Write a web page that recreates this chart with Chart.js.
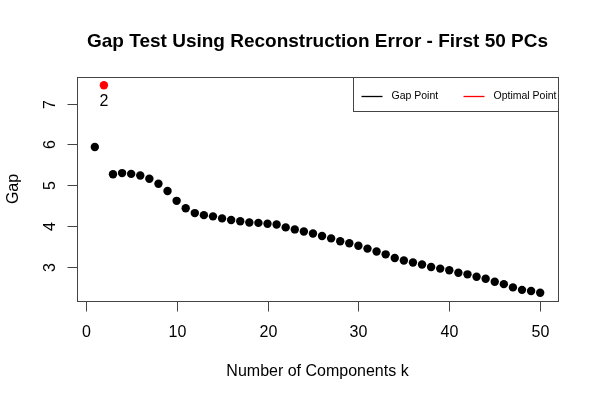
<!DOCTYPE html>
<html>
<head>
<meta charset="utf-8">
<script src="https://cdn.jsdelivr.net/npm/chart.js@4.4.1/dist/chart.umd.min.js"></script>
<style>
  html, body { margin: 0; padding: 0; background: #fff; }
  #wrap { width: 600px; height: 400px; }
</style>
</head>
<body>
<div id="wrap"><canvas id="c" width="600" height="400"></canvas></div>
<script>
// ---- data ----
const components = [1,2,3,4,5,6,7,8,9,10,11,12,13,14,15,16,17,18,19,20,21,22,23,24,25,26,27,28,29,30,31,32,33,34,35,36,37,38,39,40,41,42,43,44,45,46,47,48,49,50];
const gapValues = [5.94,7.45,5.27,5.30,5.28,5.24,5.16,5.04,4.86,4.62,4.44,4.32,4.27,4.24,4.19,4.15,4.12,4.09,4.08,4.06,4.04,3.97,3.92,3.87,3.82,3.76,3.70,3.63,3.58,3.52,3.45,3.38,3.31,3.22,3.16,3.11,3.06,3.00,2.96,2.92,2.86,2.82,2.76,2.71,2.64,2.58,2.50,2.44,2.41,2.37];
const optimalK = 2;
const xTicks = [0,10,20,30,40,50];
const yTicks = [3,4,5,6,7];
const titleText = "Gap Test Using Reconstruction Error - First 50 PCs";
const xTitle = "Number of Components k";
const yTitle = "Gap";
const legendLabels = ["Gap Point", "Optimal Point"];

const gapPts = components.map((k,i)=>({x:k,y:gapValues[i]})).filter(p=>p.x!==optimalK);
const optPts = components.map((k,i)=>({x:k,y:gapValues[i]})).filter(p=>p.x===optimalK);

// R-style 4% range extension
const xr = [Math.min(...components), Math.max(...components)];
const yr = [Math.min(...gapValues), Math.max(...gapValues)];
const xp = (xr[1]-xr[0])*0.04, yp = (yr[1]-yr[0])*0.04;

const FONT = '"Liberation Sans", Arial, Helvetica, sans-serif';

const rAxes = {
  id: 'rAxes',
  afterDraw(chart) {
    const ctx = chart.ctx;
    const a = chart.chartArea;
    const xs = chart.scales.x, ys = chart.scales.y;
    ctx.save();
    // box
    ctx.strokeStyle = '#444';
    ctx.lineWidth = 1;
    ctx.strokeRect(Math.round(a.left)+0.5, Math.round(a.top)+0.5, Math.round(a.right-a.left), Math.round(a.bottom-a.top));
    // x ticks
    ctx.fillStyle = '#000';
    ctx.font = '16px ' + FONT;
    ctx.textAlign = 'center';
    ctx.textBaseline = 'alphabetic';
    const by = Math.round(a.bottom)+0.5;
    xTicks.forEach(t => {
      const px = Math.round(xs.getPixelForValue(t))+0.5;
      ctx.beginPath(); ctx.moveTo(px, by); ctx.lineTo(px, by+10); ctx.stroke();
      ctx.fillText(String(t), px, 337);
    });
    // y ticks
    const lx = Math.round(a.left)+0.5;
    yTicks.forEach(t => {
      const py = Math.round(ys.getPixelForValue(t))+0.5;
      ctx.beginPath(); ctx.moveTo(lx, py); ctx.lineTo(lx-10, py); ctx.stroke();
      ctx.save();
      ctx.translate(55, py);
      ctx.rotate(-Math.PI/2);
      ctx.textAlign = 'center';
      ctx.fillText(String(t), 0, 0);
      ctx.restore();
    });
    // axis titles
    ctx.fillText(xTitle, (a.left+a.right)/2, 376);
    ctx.save();
    ctx.translate(18, (a.top+a.bottom)/2);
    ctx.rotate(-Math.PI/2);
    ctx.fillText(yTitle, 0, 0);
    ctx.restore();
    // main title
    ctx.font = 'bold 19px ' + FONT;
    ctx.fillText(titleText, (a.left+a.right)/2, 47);
    // label at optimal point
    ctx.font = '16px ' + FONT;
    const op = optPts[0];
    ctx.fillText(String(optimalK), xs.getPixelForValue(op.x), ys.getPixelForValue(op.y)+21);
    // legend
    const lr = Math.round(a.right)+0.5, lt = Math.round(a.top)+0.5;
    const lw = 205, lh = 34;
    ctx.fillStyle = '#fff';
    ctx.fillRect(lr-lw, lt, lw, lh);
    ctx.strokeStyle = '#444';
    ctx.strokeRect(lr-lw, lt, lw, lh);
    ctx.font = '10.5px ' + FONT;
    ctx.textAlign = 'left';
    ctx.textBaseline = 'middle';
    const ly = lt + 19;
    const items = [{c:'#000', x: lr-lw+8}, {c:'#ff0000', x: lr-lw+110}];
    items.forEach((it, i) => {
      ctx.strokeStyle = it.c; ctx.lineWidth = 1.3;
      ctx.beginPath(); ctx.moveTo(it.x, ly); ctx.lineTo(it.x+21, ly); ctx.stroke();
      ctx.fillStyle = '#000';
      ctx.fillText(legendLabels[i], it.x+30, ly);
    });
    ctx.restore();
  }
};

new Chart(document.getElementById('c'), {
  type: 'scatter',
  data: {
    datasets: [
      { label: legendLabels[0], data: gapPts, backgroundColor: '#000', borderColor: '#000', pointRadius: 4.2, pointBorderWidth: 0 },
      { label: legendLabels[1], data: optPts, backgroundColor: '#ff0000', borderColor: '#ff0000', pointRadius: 4.2, pointBorderWidth: 0 }
    ]
  },
  options: {
    responsive: false,
    animation: false,
    devicePixelRatio: 1,
    layout: { padding: { left: 77, right: 42, top: 77, bottom: 99 } },
    plugins: { legend: { display: false }, tooltip: { enabled: false }, title: { display: false } },
    scales: {
      x: { type: 'linear', display: false, min: xr[0]-xp, max: xr[1]+xp },
      y: { type: 'linear', display: false, min: yr[0]-yp, max: yr[1]+yp }
    }
  },
  plugins: [rAxes]
});
</script>
</body>
</html>
